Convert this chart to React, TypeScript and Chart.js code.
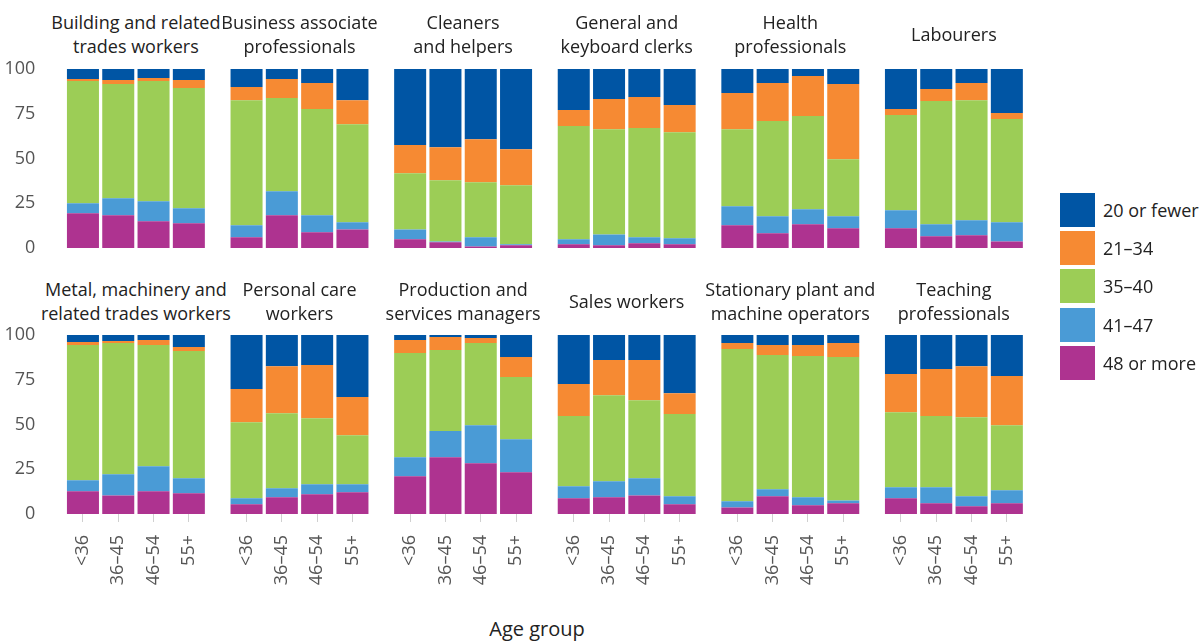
import React, { useEffect, useRef } from "react";
import { Chart, registerables } from "chart.js";

Chart.register(...registerables);

const ageGroups = ["<36", "36–45", "46–54", "55+"];

const occupationTitles = [
  ["Building and related", "trades workers"],
  ["Business associate", "professionals"],
  ["Cleaners", "and helpers"],
  ["General and", "keyboard clerks"],
  ["Health", "professionals"],
  ["Labourers"],
  ["Metal, machinery and", "related trades workers"],
  ["Personal care", "workers"],
  ["Production and", "services managers"],
  ["Sales workers"],
  ["Stationary plant and", "machine operators"],
  ["Teaching", "professionals"],
];

const bandLabels = ["20 or fewer", "21–34", "35–40", "41–47", "48 or more"];
const bandColors = ["#0055A4", "#F68A33", "#9CCD56", "#4A9BD6", "#AE3390"];

// share of workers (%) by usual weekly hours, per occupation, per age group
const fewer20 = [
  [5.6, 6.2, 5.0, 6.2], [10.1, 5.6, 7.8, 17.4], [42.5, 43.7, 39.2, 44.8], [22.9, 16.8, 15.7, 20.1],
  [13.4, 7.8, 3.9, 8.4], [22.4, 11.2, 7.8, 24.6], [3.9, 3.4, 2.8, 6.7], [30.2, 17.4, 16.8, 34.7],
  [2.8, 1.1, 1.7, 12.3], [27.4, 14.0, 14.0, 32.5], [4.5, 5.6, 5.6, 4.5], [21.8, 19.0, 17.4, 22.9],
];
const h21to34 = [
  [1.1, 2.2, 1.7, 4.4], [7.3, 10.6, 14.6, 13.4], [15.7, 18.4, 24.0, 20.1], [9.0, 16.8, 17.3, 15.2],
  [20.2, 21.3, 22.4, 42.0], [3.3, 6.7, 9.6, 3.4], [1.7, 1.1, 2.8, 2.3], [18.5, 26.3, 29.7, 21.3],
  [7.3, 7.3, 2.8, 11.2], [17.9, 19.6, 22.4, 11.7], [3.3, 5.6, 6.2, 7.8], [21.3, 26.3, 28.5, 27.5],
];
const h35to40 = [
  [68.3, 63.8, 67.2, 67.2], [69.9, 52.1, 59.3, 54.8], [31.4, 34.2, 30.8, 33.0], [63.2, 58.8, 61.0, 59.3],
  [43.1, 53.2, 52.1, 31.9], [53.2, 68.9, 67.1, 57.6], [75.6, 73.3, 67.7, 71.0], [42.5, 41.9, 36.9, 27.4],
  [58.2, 45.3, 45.9, 34.7], [39.2, 48.1, 43.6, 45.9], [85.1, 75.0, 78.9, 80.1], [42.0, 39.8, 44.2, 36.4],
];
const h41to47 = [
  [5.6, 9.5, 11.2, 8.4], [6.7, 13.4, 9.5, 4.0], [5.5, 0.5, 5.1, 0.6], [2.8, 6.1, 3.4, 3.3],
  [10.6, 9.5, 8.4, 6.7], [10.1, 6.7, 8.4, 10.7], [6.1, 11.8, 14.0, 8.4], [3.4, 5.1, 5.6, 4.5],
  [10.6, 14.6, 21.2, 18.5], [6.7, 9.0, 9.6, 4.5], [3.4, 3.9, 4.4, 1.6], [6.1, 8.9, 5.6, 7.2],
];
const h48plus = [
  [19.4, 18.3, 14.9, 13.8], [6.0, 18.3, 8.8, 10.4], [4.9, 3.2, 0.9, 1.5], [2.1, 1.5, 2.6, 2.1],
  [12.7, 8.2, 13.2, 11.0], [11.0, 6.5, 7.1, 3.7], [12.7, 10.4, 12.7, 11.6], [5.4, 9.3, 11.0, 12.1],
  [21.1, 31.7, 28.4, 23.3], [8.8, 9.3, 10.4, 5.4], [3.7, 9.9, 4.9, 6.0], [8.8, 6.0, 4.3, 6.0],
];
const yTicks = [0, 25, 50, 75, 100];

const bandSeries = [fewer20, h21to34, h35to40, h41to47, h48plus];

const FONT = '"Open Sans", "Noto Sans", sans-serif';
const AREA_X0 = 65.3;
const PITCH = 163.6;
const AREA_W = 141.2;
const AREA_H = 179;
const ROW_TOP = [69, 335];

function Panel({ idx }: { idx: number }) {
  const ref = useRef<HTMLCanvasElement | null>(null);
  const row = Math.floor(idx / 6);
  const col = idx % 6;
  const areaLeft = AREA_X0 + PITCH * col;
  const canvasLeft = col === 0 ? 0 : Math.floor(areaLeft) - 20;
  const yw = areaLeft - canvasLeft;
  const canvasW = Math.ceil(yw + AREA_W) + 20;
  const padRight = canvasW - yw - AREA_W;
  const padTop = 19;
  const canvasTop = ROW_TOP[row] - padTop;
  const xAxisH = 80;
  const padBottom = row === 0 ? 12 : 0;
  const canvasH = padTop + AREA_H + (row === 0 ? padBottom : xAxisH);

  useEffect(() => {
    if (!ref.current) return;
    const order = [4, 3, 2, 1, 0];
    const chart = new Chart(ref.current, {
      type: "bar",
      data: {
        labels: ageGroups,
        datasets: order.map((k) => ({
          label: bandLabels[k],
          data: bandSeries[k][idx],
          backgroundColor: bandColors[k],
          borderWidth: 0,
          barPercentage: 0.907,
          categoryPercentage: 1,
        })),
      },
      options: {
        responsive: false,
        animation: false,
        devicePixelRatio: 1,
        layout: { padding: { top: padTop, bottom: padBottom, left: 0, right: padRight } },
        plugins: { legend: { display: false }, title: { display: false }, tooltip: { enabled: false } },
        scales: {
          x: {
            stacked: true,
            display: row === 1,
            grid: { display: true, drawOnChartArea: false, drawTicks: true, tickLength: 8, color: "#d0d0d0", lineWidth: 1, offset: false },
            border: { display: false },
            ticks: { maxRotation: 90, minRotation: 90, autoSkip: false, padding: 13, color: "#555555", font: { size: 18, family: FONT } },
            afterFit: (s: any) => {
              if (row === 1) s.height = xAxisH;
              s.paddingLeft = 0;
              s.paddingRight = 0;
            },
          },
          y: {
            stacked: true,
            min: 0,
            max: 100,
            afterBuildTicks: (s: any) => { s.ticks = yTicks.map((v) => ({ value: v })); },
            ticks: { display: col === 0, padding: 22, color: "#555555", font: { size: 18, family: FONT } },
            grid: { display: false },
            border: { display: false },
            afterFit: (s: any) => {
              s.width = yw;
              s.paddingTop = 0;
              s.paddingBottom = 0;
            },
          },
        },
      },
    } as any);
    return () => chart.destroy();
  }, []);

  const title = occupationTitles[idx];
  const centerX = areaLeft + AREA_W / 2;
  const titleCenterY = row === 0 ? 34 : 301;
  return (
    <>
      <div
        style={{
          position: "absolute",
          left: centerX - 120,
          width: 240,
          top: titleCenterY - (title.length * 24) / 2,
          lineHeight: "24px",
          fontSize: 18,
          fontFamily: FONT,
          color: "#222222",
          textAlign: "center",
          whiteSpace: "nowrap",
        }}
      >
        {title.map((t, i) => (
          <div key={i}>{t}</div>
        ))}
      </div>
      <canvas
        ref={ref}
        width={canvasW}
        height={canvasH}
        style={{ position: "absolute", left: canvasLeft, top: canvasTop, width: canvasW, height: canvasH }}
      />
    </>
  );
}

export default function App() {
  return (
    <div style={{ position: "absolute", left: 0, top: 0, width: 1203, height: 643, background: "#ffffff", overflow: "hidden" }}>
      {occupationTitles.map((_, i) => (
        <Panel key={i} idx={i} />
      ))}
      <div
        style={{
          position: "absolute",
          left: 437,
          width: 200,
          top: 616,
          textAlign: "center",
          fontSize: 20,
          fontFamily: FONT,
          color: "#222222",
          lineHeight: "26px",
        }}
      >
        Age group
      </div>
      {bandLabels.map((b, k) => (
        <div key={b} style={{ position: "absolute", left: 1060, top: 192 + k * 38.4, height: 35, display: "flex", alignItems: "center" }}>
          <div style={{ width: 35, height: 34, background: bandColors[k] }} />
          <div style={{ marginLeft: 8, fontSize: 18, fontFamily: FONT, color: "#222222", whiteSpace: "nowrap" }}>{b}</div>
        </div>
      ))}
    </div>
  );
}
